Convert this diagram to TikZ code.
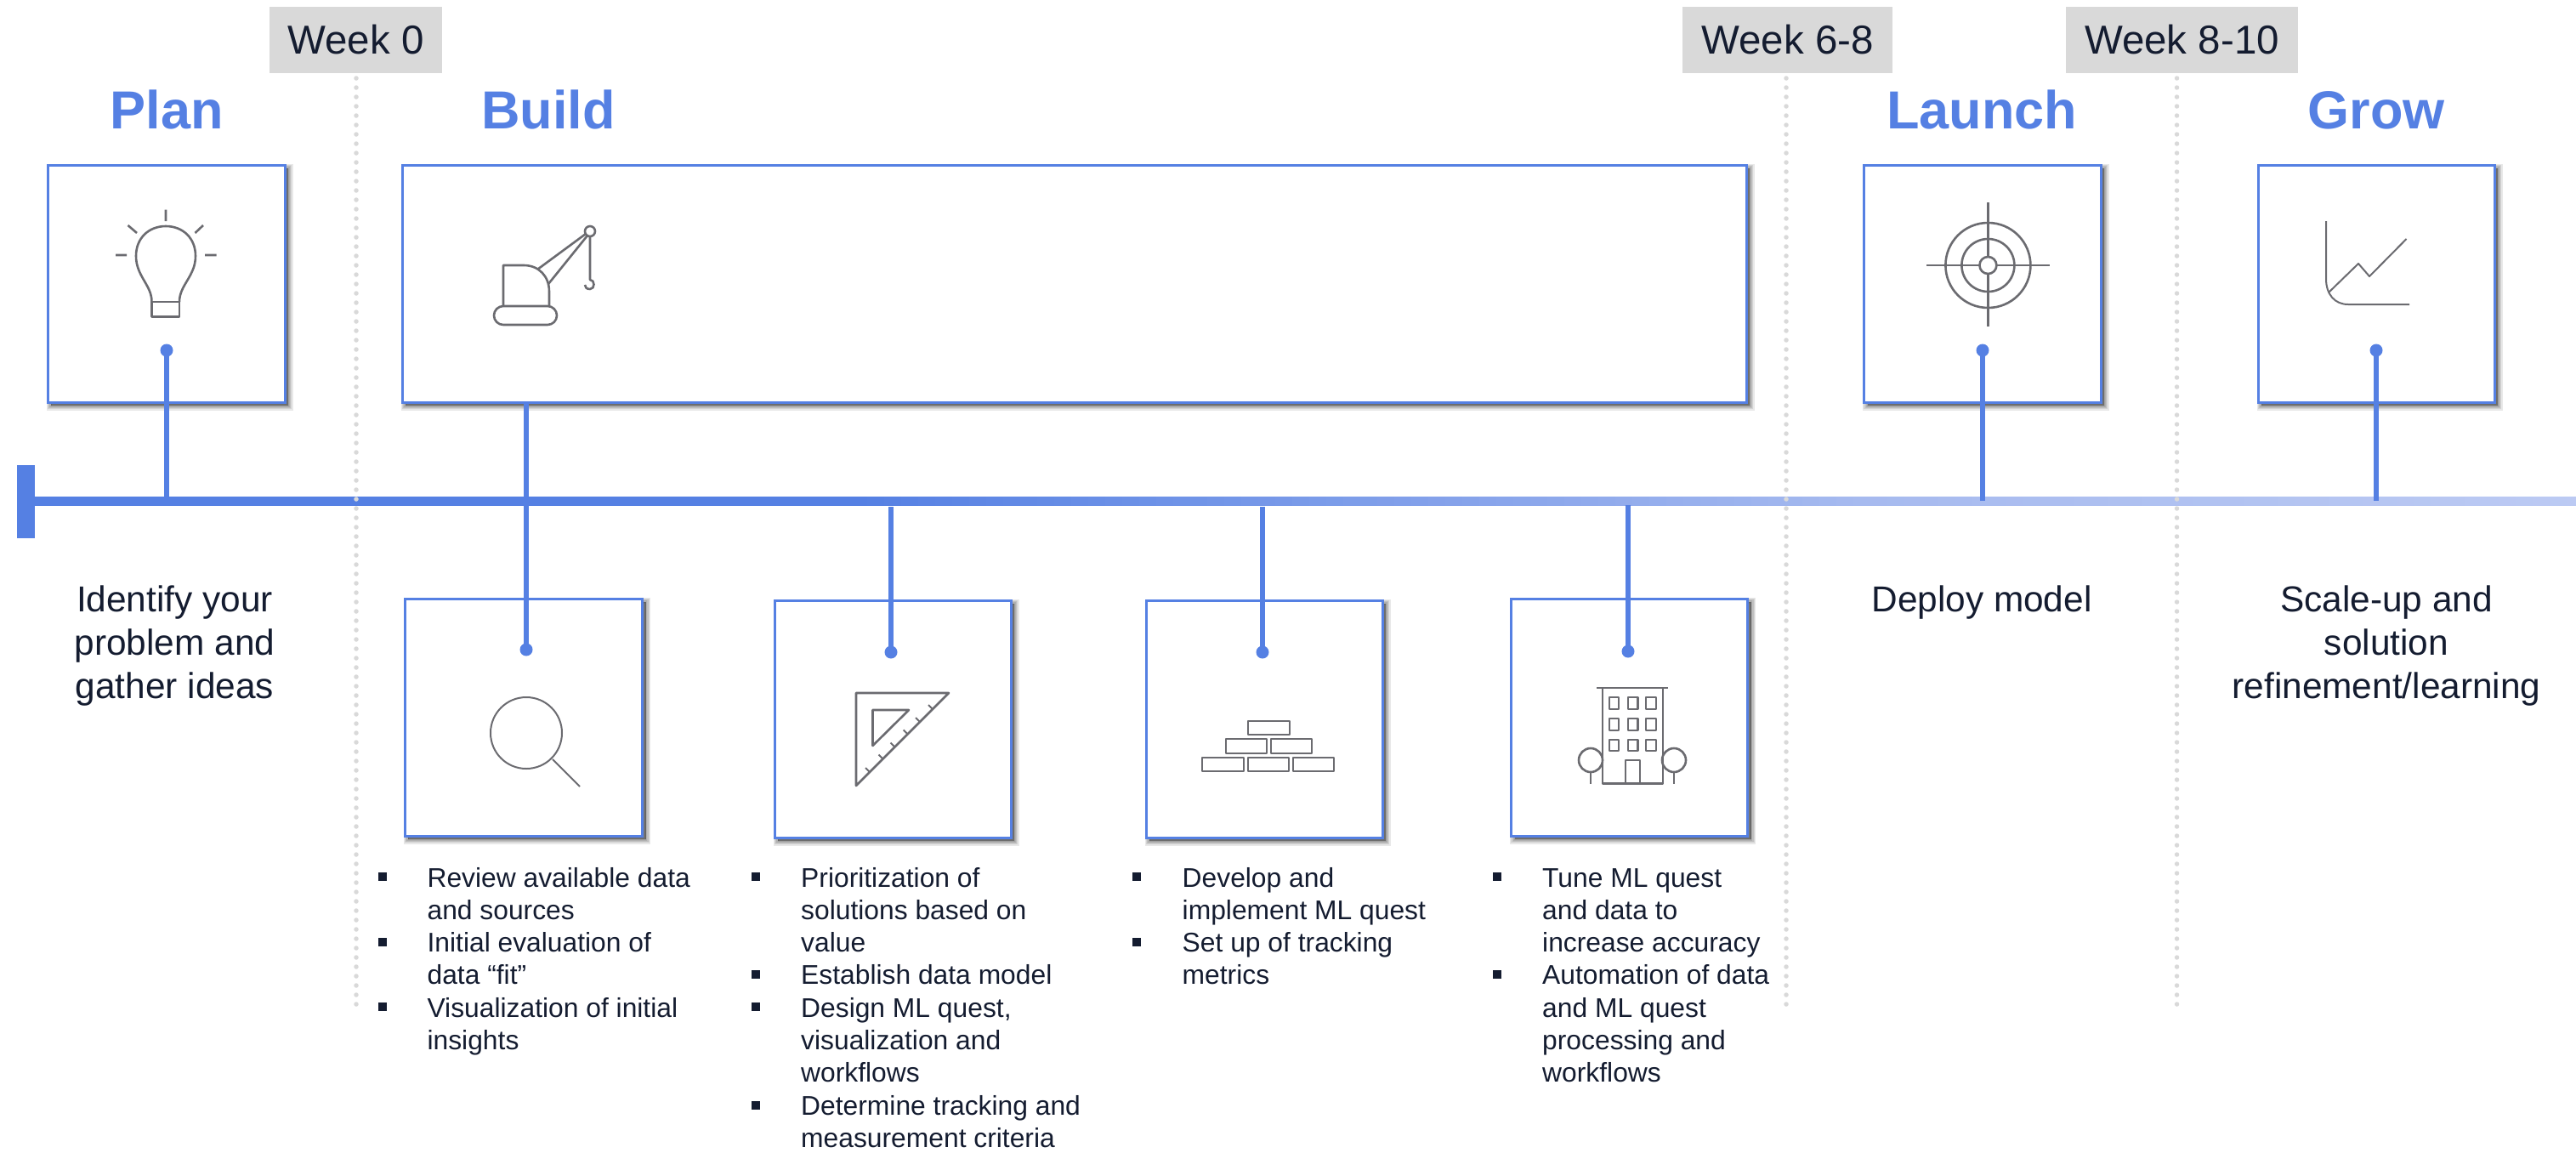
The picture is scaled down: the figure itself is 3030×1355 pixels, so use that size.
\documentclass[tikz,border=0pt]{standalone}
\usepackage{fontspec}
\setmainfont{Liberation Sans}
\usetikzlibrary{shadows}
\definecolor{tlblue}{HTML}{5580E3}
\definecolor{tlmid}{HTML}{A6BAEF}
\definecolor{tlpale}{HTML}{BCCAF3}
\definecolor{inkc}{HTML}{141C30}
\definecolor{icong}{HTML}{6B6B70}
\definecolor{weekg}{HTML}{D9D9D9}
\tikzset{
  softshadow/.style={general shadow={shadow xshift=4pt,shadow yshift=-4pt,fill=black,draw=black,line width=#1,opacity=.09}},
  cardbox/.style={draw=tlblue,fill=white,line width=3pt,
    softshadow=11pt,softshadow=8.5pt,softshadow=6pt,softshadow=3.5pt,softshadow=1pt},
  weekbox/.style={fill=weekg,inner sep=0pt,font=\fontsize{47.5}{50}\selectfont,text=inkc,anchor=center},
  phase/.style={font=\fontsize{63}{65}\selectfont\bfseries,text=tlblue,inner sep=0pt,anchor=base},
  bodytxt/.style={font=\fontsize{42.4}{51}\selectfont,text=inkc,inner sep=0pt,align=center,anchor=north},
  listtxt/.style={font=\fontsize{31.8}{38.3}\selectfont,text=inkc,inner sep=0pt,align=left,anchor=north west},
  sq/.style={fill=inkc,inner sep=0pt,minimum width=10pt,minimum height=10pt},
  stem/.style={draw=tlblue,line width=6pt},
  knob/.style={fill=tlblue,circle,inner sep=0pt,minimum size=15pt},
  week/.style={draw=weekg,line width=5.5pt,line cap=round,dash pattern=on 0pt off 11pt},
  ico/.style={draw=icong,line width=2.6pt,line join=round},
  icot/.style={draw=icong,line width=2pt,line join=round}
}
\newcommand{\cardat}[5]{\node[cardbox,inner sep=0pt,minimum width=#4-#2 pt,minimum height=#5-#3 pt] (#1) at ({(#2+#4)/2},{(#3+#5)/2}) {};}
\begin{document}
\begin{tikzpicture}[x=1pt,y=-1pt]
\useasboundingbox (0,0) rectangle (3030,1355);
% timeline
\fill[tlblue] (20,547) rectangle (41,633);
\fill[tlblue] (41,584) rectangle (1010,595);
\foreach \i in {0,...,59}{
  \pgfmathsetmacro{\xa}{1000+20*\i}
  \pgfmathsetmacro{\xb}{\xa+21}
  \pgfmathsetmacro{\pc}{100*\i/59}
  \fill[tlmid!\pc!tlblue] (\xa,584) rectangle (\xb,595);
}
\foreach \i in {0,...,42}{
  \pgfmathsetmacro{\xa}{2180+20*\i}
  \pgfmathsetmacro{\xb}{min(\xa+21,3030)}
  \pgfmathsetmacro{\pc}{100*\i/42}
  \fill[tlpale!\pc!tlmid] (\xa,584) rectangle (\xb,595);
}
\coordinate (tlA) at (196,589);
\coordinate (tlB) at (1048,596);
\coordinate (tlC) at (1485,596);
\coordinate (tlD) at (1915,594);
\coordinate (tlE) at (2332,589);
\coordinate (tlF) at (2795,589);
% week dotted lines
\coordinate (wa) at (419,92); \coordinate (wa2) at (419,1186);
\coordinate (wb) at (2101,92); \coordinate (wb2) at (2101,1186);
\coordinate (wc) at (2560.5,92); \coordinate (wc2) at (2560.5,1186);
\draw[week] (wa) -- (wa2);
\draw[week] (wb) -- (wb2);
\draw[week] (wc) -- (wc2);
% week labels
\node[weekbox,minimum width=203pt,minimum height=78pt] (w0) at (418.5,47) {Week 0};
\node[weekbox,minimum width=247pt,minimum height=78pt] (w6) at (2102.5,47) {Week 6-8};
\node[weekbox,minimum width=273pt,minimum height=78pt] (w8) at (2566.5,47) {Week 8-10};
% phases
\node[phase] (plan) at (196,151) {Plan};
\node[phase] (build) at (645,151) {Build};
\node[phase] (launch) at (2331,151) {Launch};
\node[phase] (grow) at (2795,151) {Grow};
% cards
\cardat{cplan}{56}{194}{335}{473}
\cardat{cbuild}{473}{194}{2054}{473}
\cardat{claunch}{2192.5}{194}{2471}{473}
\cardat{cgrow}{2656}{194}{2934}{473}
\cardat{cA}{476}{704}{755.5}{983}
\cardat{cB}{911}{706}{1189}{985}
\cardat{cC}{1348}{706}{1626}{985}
\cardat{cD}{1777.5}{704}{2055.5}{983}
% stems
\node[knob] (kplan) at (196,412) {};
\node[knob] (klaunch) at (2332,412) {};
\node[knob] (kgrow) at (2795,412) {};
\node[knob] (kA) at (619,764) {};
\node[knob] (kB) at (1048,767) {};
\node[knob] (kC) at (1485,767) {};
\node[knob] (kD) at (1915,766) {};
\draw[stem] (tlA) -- (kplan.center);
\draw[stem] (tlE) -- (klaunch.center);
\draw[stem] (tlF) -- (kgrow.center);
\draw[stem] (kA.center) -- (kA.center |- cbuild.south);
\draw[stem] (tlB) -- (kB.center);
\draw[stem] (tlC) -- (kC.center);
\draw[stem] (tlD) -- (kD.center);
% bulb
\draw[ico] (195,246.5)--(195,260) (150.5,265)--(161,274) (239,265)--(229.5,274) (136,300)--(149,300) (241,300)--(254.6,300);
\draw[ico] (178.5,355) .. controls (178.5,335) and (160,325) .. (160,301) .. controls (160,280) and (175,266) .. (195,266) .. controls (215,266) and (230,280) .. (230,301) .. controls (230,325) and (211,335) .. (211,355);
\draw[ico] (178.5,355) rectangle (211,372.5);
% crane
\draw[ico,rounded corners=11pt] (581,360) rectangle (655,382);
\draw[ico] (592,360) -- (592,312) -- (616,312) .. controls (634,312) and (646,325) .. (646,343) -- (646,360);
\draw[ico] (632,317) -- (689,275) (645,334) -- (691,277);
\draw[ico] (694,272) circle[radius=6pt];
\draw[ico] (694,278) -- (694,329) .. controls (700,329) and (700,340) .. (694,340) .. controls (690,340) and (688,338) .. (688,335);
% target
\draw[ico] (2338.4,312) circle[radius=50pt] (2338.4,312) circle[radius=31pt] (2338.4,312) circle[radius=10pt];
\draw[ico] (2266,312)--(2328,312) (2348.4,312)--(2410.6,312) (2338.4,238)--(2338.4,302) (2338.4,322)--(2338.4,384);
% chart
\draw[icot] (2736,260) -- (2736,328) .. controls (2736,346) and (2746,358) .. (2762,358) -- (2834,358);
\draw[icot] (2739,344) -- (2774,310) -- (2787,325) -- (2830.5,281);
% magnifier
\draw[icot] (619,862) circle[radius=42pt];
\draw[icot] (650,893) -- (682,925);
% set square
\draw[ico] (1007,815) -- (1116,815) -- (1007,924) -- cycle;
\draw[ico] (1026.5,835) -- (1069,835) -- (1026.5,877) -- cycle;
\draw[icot] (1023,908)--(1018,903) (1038.5,892.5)--(1033.5,887.5) (1052.5,878.5)--(1047.5,873.5) (1067.6,863.4)--(1062.6,858.4) (1082,849)--(1077,844) (1097,834)--(1092,829);
% bricks
\draw[icot] (1468,848) rectangle (1517,864);
\draw[icot] (1441.5,869.4) rectangle (1490,886) (1495,869.4) rectangle (1543,886);
\draw[icot] (1414,891) rectangle (1463,907) (1468,891) rectangle (1516,907) (1521,891) rectangle (1569,907);
% building
\draw[ico] (1878,809) -- (1962,809);
\draw[ico] (1885,809) -- (1885,921.5) -- (1956,921.5) -- (1956,809);
\draw[ico] (1893,820) rectangle (1904,834) (1915,820) rectangle (1926.5,834) (1936,820) rectangle (1948,834);
\draw[ico] (1893,845) rectangle (1904,859) (1915,845) rectangle (1926.5,859) (1936,845) rectangle (1948,859);
\draw[ico] (1893,870) rectangle (1904,883) (1915,870) rectangle (1926.5,883) (1936,870) rectangle (1948,883);
\draw[ico] (1912,921.5) -- (1912,894) -- (1929,894) -- (1929,921.5);
\draw[ico] (1871,894) circle[radius=14pt] (1969,894) circle[radius=14pt];
\draw[ico] (1871,908) -- (1871,922) (1969,908) -- (1969,922);
% side texts
\node[bodytxt] (tplan) at (205.5,688.5) {Identify your\\problem and\\gather ideas};
\node[bodytxt] (tlaunch) at (2331,688.5) {Deploy model};
\node[bodytxt] (tgrow) at (2807,688.5) {Scale-up and\\solution\\refinement/learning};
% lists
\node[listtxt] (lA) at (502.4,1016) {\strut Review available data\\and sources\\Initial evaluation of\\data “fit”\\Visualization of initial\\insights};
\node[listtxt] (lB) at (942,1016) {\strut Prioritization of\\solutions based on\\value\\Establish data model\\Design ML quest,\\visualization and\\workflows\\Determine tracking and\\measurement criteria};
\node[listtxt] (lC) at (1390.5,1016) {\strut Develop and\\implement ML quest\\Set up of tracking\\metrics};
\node[listtxt] (lD) at (1814,1016) {\strut Tune ML quest\\and data to\\increase accuracy\\Automation of data\\and ML quest\\processing and\\workflows};
% bullets
\node[sq] (a1) at (449.5,1031) {};
\node[sq] (a2) at (449.5,1108) {};
\node[sq] (a3) at (449.5,1184) {};
\node[sq] (b1) at (889,1031) {};
\node[sq] (b2) at (889,1146) {};
\node[sq] (b3) at (889,1184) {};
\node[sq] (b4) at (889,1300) {};
\node[sq] (c1) at (1337,1031) {};
\node[sq] (c2) at (1337,1108) {};
\node[sq] (d1) at (1761,1031) {};
\node[sq] (d2) at (1761,1146) {};
\end{tikzpicture}
\end{document}
